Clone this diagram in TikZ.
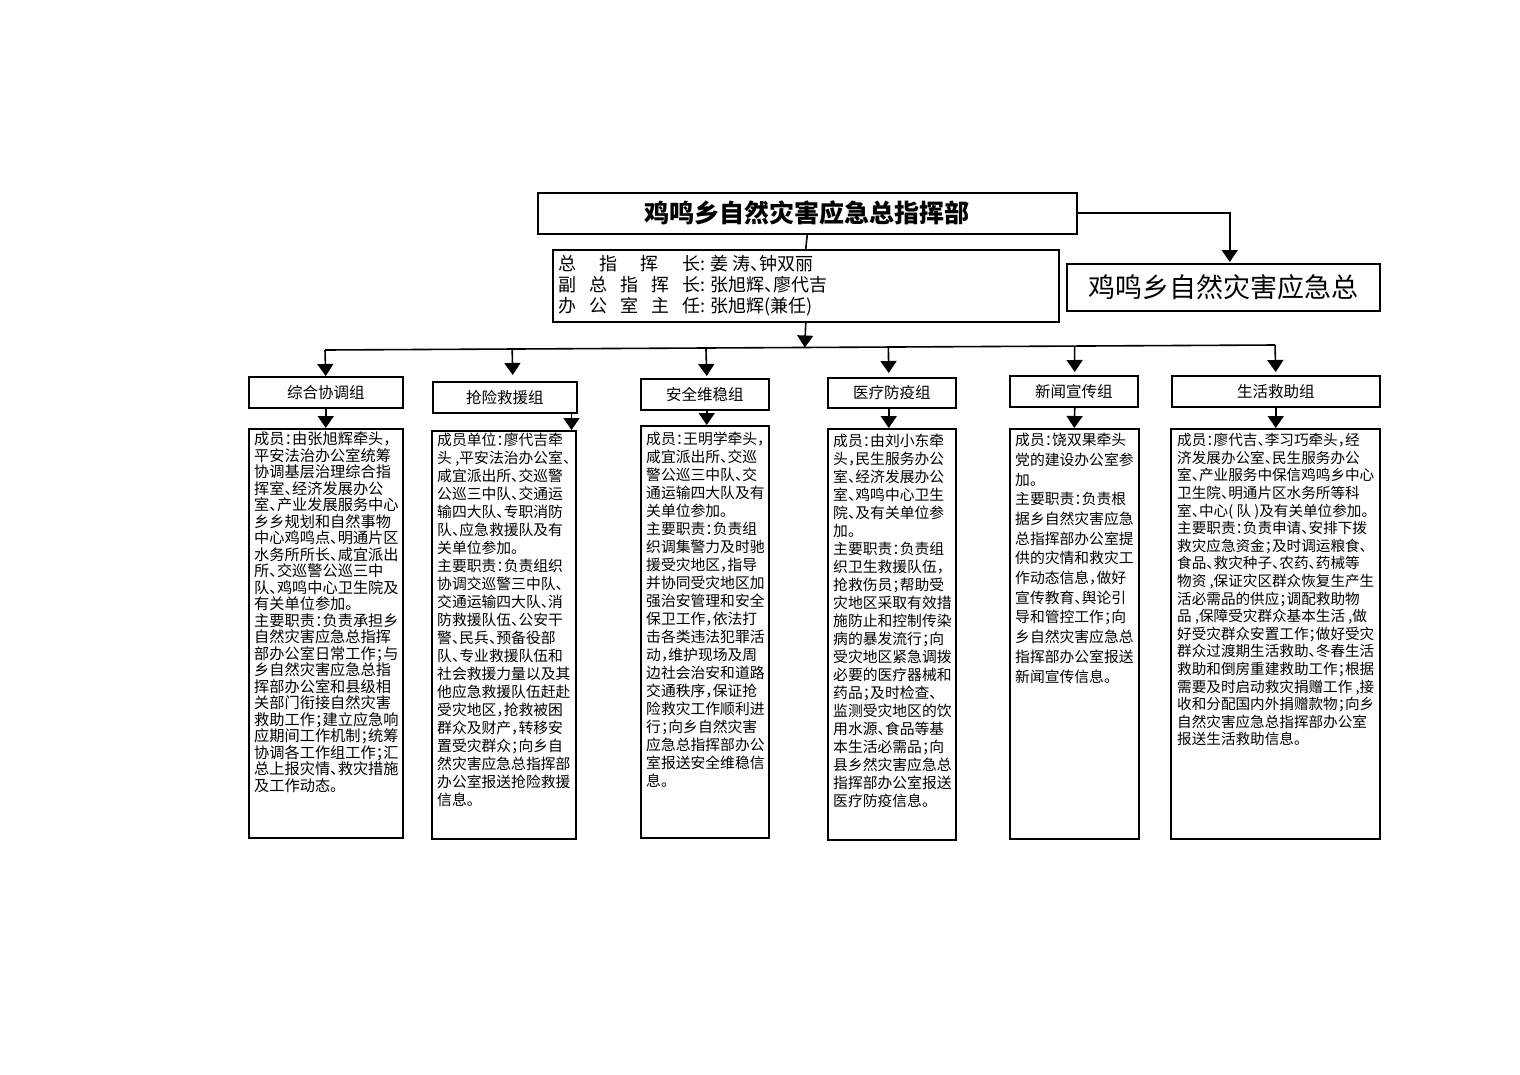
\documentclass[tikz,border=0pt]{standalone}
\usepackage{fontspec}
\setmainfont{Noto Sans CJK SC}
\newfontfamily\detfont[RawFeature=+halt]{Noto Sans CJK SC}
\usetikzlibrary{arrows.meta,calc}
\begin{document}
\begin{tikzpicture}[x=1pt,y=-1pt,
  box/.style={draw,line width=1.5pt,rectangle,inner sep=0pt,anchor=north west},
  ln/.style={line width=1.6pt},
  arr/.style={line width=1.6pt,-{Triangle[width=16pt,length=12pt]}},
  dtext/.style={anchor=north west,inner sep=0pt,align=left,font=\detfont\fontsize{14.8}{18}\selectfont},
  head/.style={font=\fontsize{15.5}{18}\selectfont}]
\useasboundingbox (0,0) rectangle (1520,1074);
\fill[white] (0,0) rectangle (1520,1074);

% top
\node[box,minimum width=539pt,minimum height=41pt,font=\bfseries\fontsize{25}{28}\selectfont] (title) at (537,192) {鸡鸣乡自然灾害应急总指挥部};
\node[box,minimum width=506pt,minimum height=72pt] (info) at (552,249) {};
\node[anchor=north west,inner sep=0pt,align=left,font=\detfont\fontsize{18}{21}\selectfont] (infotext) at (558,255)
 {\makebox[142pt][s]{总\hfill 指\hfill 挥\hfill 长}: 姜\ 涛、钟双丽\\
  \makebox[142pt][s]{副\hfill 总\hfill 指\hfill 挥\hfill 长}: 张旭辉、廖代吉\\
  \makebox[142pt][s]{办\hfill 公\hfill 室\hfill 主\hfill 任}: 张旭辉(兼任)};
\node[box,minimum width=313pt,minimum height=47pt,font=\fontsize{27}{30}\selectfont] (right) at (1066,263) {鸡鸣乡自然灾害应急总};

\draw[ln] (title.south) -- (info.north);
\draw[arr] (title.east) -| ([xshift=6.5pt,yshift=1pt]right.north);

% bar
\coordinate (barL) at (325,350);
\coordinate (barR) at (1275,345);
\coordinate (barM) at ($(barL)!0.505!(barR)$);
\draw[ln] (barL) -- (barR);
\draw[arr] (info.south) -- (barM);

% group headings
\node[box,head,minimum width=154pt,minimum height=31pt] (g1) at (248,376) {综合协调组};
\node[box,head,minimum width=144pt,minimum height=31pt] (g2) at (432,381) {抢险救援组};
\node[box,head,minimum width=128pt,minimum height=31pt] (g3) at (640,378) {安全维稳组};
\node[box,head,minimum width=128pt,minimum height=30pt] (g4) at (827,377) {医疗防疫组};
\node[box,head,minimum width=128pt,minimum height=31pt] (g5) at (1009,375) {新闻宣传组};
\node[box,head,minimum width=208pt,minimum height=31pt] (g6) at (1171,375) {生活救助组};

\draw[arr] (barL) -- (g1.north);
\draw[arr] ($(barL)!0.197!(barR)$) -- ([xshift=8pt,yshift=6pt]g2.north);
\draw[arr] ($(barL)!0.401!(barR)$) -- ([xshift=2pt,yshift=2pt]g3.north);
\draw[arr] ($(barL)!0.593!(barR)$) -- ([xshift=-3pt,yshift=4pt]g4.north);
\draw[arr] ($(barL)!0.789!(barR)$) -- ([xshift=1pt,yshift=3pt]g5.north);
\draw[arr] (barR) -- ([yshift=3pt]g6.north);

% detail boxes
\node[box,minimum width=154pt,minimum height=409pt] (d1) at (248,428) {};
\node[box,minimum width=144pt,minimum height=408pt] (d2) at (431,430) {};
\node[box,minimum width=128pt,minimum height=412pt] (d3) at (640,425) {};
\node[box,minimum width=128pt,minimum height=411pt] (d4) at (827,428) {};
\node[box,minimum width=129pt,minimum height=410pt] (d5) at (1009,428) {};
\node[box,minimum width=209pt,minimum height=410pt] (d6) at (1170,428) {};

\draw[arr] (g1.south) -- (d1.north);
\draw[arr] ([xshift=-6pt]g2.south east) -- ([xshift=-5pt]d2.north east);
\draw[arr] ([xshift=2pt]g3.south) -- ([xshift=2pt]d3.north);
\draw[arr] ([xshift=-3pt]g4.south) -- ([xshift=-3pt]d4.north);
\draw[arr] ([xshift=1pt]g5.south) -- (d5.north);
\draw[arr] (g6.south) -- ([xshift=0.5pt]d6.north);

\node[dtext,font=\detfont\fontsize{15.2}{16.5}\selectfont] (t1) at (254,432) {成员：由张旭辉牵头，\\平安法治办公室统筹\\协调基层治理综合指\\挥室、经济发展办公\\室、产业发展服务中心\\乡乡规划和自然事物\\中心鸡鸣点、明通片区\\水务所所长、咸宜派出\\所、交巡警公巡三中\\队、鸡鸣中心卫生院及\\有关单位参加。\\主要职责：负责承担乡\\自然灾害应急总指挥\\部办公室日常工作；与\\乡自然灾害应急总指\\挥部办公室和县级相\\关部门衔接自然灾害\\救助工作；建立应急响\\应期间工作机制；统筹\\协调各工作组工作；汇\\总上报灾情、救灾措施\\及工作动态。};

\node[dtext] (t2) at (437,433) {成员单位：廖代吉牵\\头 ,平安法治办公室、\\咸宜派出所、交巡警\\公巡三中队、交通运\\输四大队、专职消防\\队、应急救援队及有\\关单位参加。\\主要职责：负责组织\\协调交巡警三中队、\\交通运输四大队、消\\防救援队伍、公安干\\警、民兵、预备役部\\队、专业救援队伍和\\社会救援力量以及其\\他应急救援队伍赶赴\\受灾地区，抢救被困\\群众及财产，转移安\\置受灾群众；向乡自\\然灾害应急总指挥部\\办公室报送抢险救援\\信息。};

\node[dtext] (t3) at (646,432) {成员：王明学牵头，\\咸宜派出所、交巡\\警公巡三中队、交\\通运输四大队及有\\关单位参加。\\主要职责：负责组\\织调集警力及时驰\\援受灾地区，指导\\并协同受灾地区加\\强治安管理和安全\\保卫工作，依法打\\击各类违法犯罪活\\动，维护现场及周\\边社会治安和道路\\交通秩序，保证抢\\险救灾工作顺利进\\行；向乡自然灾害\\应急总指挥部办公\\室报送安全维稳信\\息。};

\node[dtext] (t4) at (833,434) {成员：由刘小东牵\\头，民生服务办公\\室、经济发展办公\\室、鸡鸣中心卫生\\院、及有关单位参\\加。\\主要职责：负责组\\织卫生救援队伍，\\抢救伤员；帮助受\\灾地区采取有效措\\施防止和控制传染\\病的暴发流行；向\\受灾地区紧急调拨\\必要的医疗器械和\\药品；及时检查、\\监测受灾地区的饮\\用水源、食品等基\\本生活必需品；向\\县乡然灾害应急总\\指挥部办公室报送\\医疗防疫信息。};

\node[dtext,font=\detfont\fontsize{14.8}{19.7}\selectfont] (t5) at (1015,433) {成员：饶双果牵头\\党的建设办公室参\\加。\\主要职责：负责根\\据乡自然灾害应急\\总指挥部办公室提\\供的灾情和救灾工\\作动态信息，做好\\宣传教育、舆论引\\导和管控工作；向\\乡自然灾害应急总\\指挥部办公室报送\\新闻宣传信息。};

\node[dtext,font=\detfont\fontsize{14.6}{17.6}\selectfont] (t6) at (1177,433) {成员：廖代吉、李习巧牵头，经\\济发展办公室、民生服务办公\\室、产业服务中保信鸡鸣乡中心\\卫生院、明通片区水务所等科\\室、中心( 队 )及有关单位参加。\\主要职责：负责申请、安排下拨\\救灾应急资金；及时调运粮食、\\食品、救灾种子、农药、药械等\\物资 ,保证灾区群众恢复生产生\\活必需品的供应；调配救助物\\品 ,保障受灾群众基本生活 ,做\\好受灾群众安置工作；做好受灾\\群众过渡期生活救助、冬春生活\\救助和倒房重建救助工作；根据\\需要及时启动救灾捐赠工作 ,接\\收和分配国内外捐赠款物；向乡\\自然灾害应急总指挥部办公室\\报送生活救助信息。};
\end{tikzpicture}
\end{document}
